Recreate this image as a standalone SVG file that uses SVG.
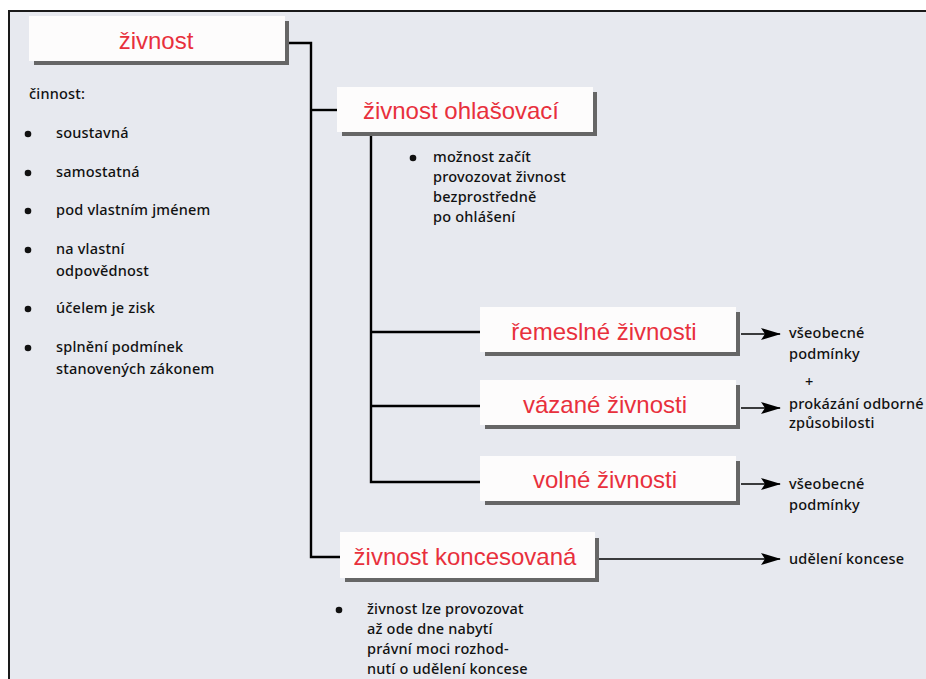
<svg xmlns="http://www.w3.org/2000/svg" width="926" height="679" viewBox="0 0 926 679">
<defs>
<style>
.bg{fill:#e7e9ef;stroke:#1a1a1a;stroke-width:2}
.box{fill:#fdfcfc}
.sh{fill:none;stroke:#666;stroke-width:4}
.title{font-family:"Liberation Sans",Arial,sans-serif;font-size:24px;fill:#e8303c;text-anchor:middle}
.t{font-family:"Noto Sans","Open Sans",sans-serif;font-size:14.5px;font-weight:500;letter-spacing:0.2px;fill:#111}
.dot{fill:#111}
.ln{fill:none;stroke:#000;stroke-width:2.4}
.ar{fill:none;stroke:#000;stroke-width:1.5}
</style>
<marker id="ah" markerWidth="20" markerHeight="12" refX="19" refY="6" orient="auto" markerUnits="userSpaceOnUse">
<path d="M0,0 L20,6 L0,12 L4,6 Z" fill="#000"/>
</marker>
</defs>
<rect x="0" y="0" width="926" height="679" fill="#fff"/>
<rect class="bg" x="9" y="11" width="930" height="680"/>

<g id="connectors">
<path class="ln" d="M289,43 H311 V557 H342"/>
<path class="ln" d="M311,110 H338"/>
<path class="ln" d="M371,136 V482 H481"/>
<path class="ln" d="M371,332 H481"/>
<path class="ln" d="M371,406 H481"/>
<path class="ar" d="M741,334 H780" marker-end="url(#ah)"/>
<path class="ar" d="M741,408 H780" marker-end="url(#ah)"/>
<path class="ar" d="M741,484 H780" marker-end="url(#ah)"/>
<path class="ar" d="M599,559 H780" marker-end="url(#ah)"/>
</g>

<g id="zivnost">
<path class="sh" d="M287,21 V63 H34"/>
<rect class="box" x="29" y="16" width="256" height="45"/>
<text class="title" x="156" y="49">živnost</text>
</g>

<g id="cinnost">
<text class="t" x="29" y="99">činnost:</text>
<circle class="dot" cx="28" cy="134" r="3.3"/><text class="t" x="56" y="138">soustavná</text>
<circle class="dot" cx="28" cy="173" r="3.3"/><text class="t" x="56" y="177">samostatná</text>
<circle class="dot" cx="28" cy="211" r="3.3"/><text class="t" x="56" y="215">pod vlastním jménem</text>
<circle class="dot" cx="28" cy="250" r="3.3"/><text class="t" x="56" y="254">na vlastní</text>
<text class="t" x="56" y="276">odpovědnost</text>
<circle class="dot" cx="28" cy="309" r="3.3"/><text class="t" x="56" y="313">účelem je zisk</text>
<circle class="dot" cx="28" cy="348" r="3.3"/><text class="t" x="56" y="352">splnění podmínek</text>
<text class="t" x="56" y="374">stanovených zákonem</text>
</g>

<g id="ohlasovaci">
<path class="sh" d="M595,92 V134 H342"/>
<rect class="box" x="337" y="87" width="256" height="45"/>
<text class="title" x="461" y="119">živnost ohlašovací</text>
</g>

<g id="ohlasovaci-note">
<circle class="dot" cx="413" cy="158" r="3.3"/>
<text class="t" x="433" y="162">možnost začít</text>
<text class="t" x="433" y="182">provozovat živnost</text>
<text class="t" x="433" y="202">bezprostředně</text>
<text class="t" x="433" y="222">po ohlášení</text>
</g>

<g id="remeslne">
<path class="sh" d="M738,312 V354 H485"/>
<rect class="box" x="480" y="307" width="256" height="45"/>
<text class="title" x="604" y="340">řemeslné živnosti</text>
</g>
<g id="vazane">
<path class="sh" d="M738,385 V427 H485"/>
<rect class="box" x="480" y="380" width="256" height="45"/>
<text class="title" x="605" y="413">vázané živnosti</text>
</g>
<g id="volne">
<path class="sh" d="M738,461 V503 H485"/>
<rect class="box" x="480" y="456" width="256" height="45"/>
<text class="title" x="605" y="488">volné živnosti</text>
</g>

<g id="podminky">
<text class="t" x="789" y="338">všeobecné</text>
<text class="t" x="789" y="359">podmínky</text>
<text class="t" x="805" y="387">+</text>
<text class="t" x="789" y="409">prokázání odborné</text>
<text class="t" x="789" y="428">způsobilosti</text>
<text class="t" x="789" y="489">všeobecné</text>
<text class="t" x="789" y="510">podmínky</text>
</g>

<g id="koncesovana">
<path class="sh" d="M597,538 V580 H345"/>
<rect class="box" x="340" y="532" width="255" height="46"/>
<text class="title" x="465" y="565">živnost koncesovaná</text>
</g>
<g id="udeleni">
<text class="t" x="789" y="564">udělení koncese</text>
</g>
<g id="koncesovana-note">
<circle class="dot" cx="339" cy="610" r="3.3"/>
<text class="t" x="367" y="614">živnost lze provozovat</text>
<text class="t" x="367" y="634">až ode dne nabytí</text>
<text class="t" x="367" y="654">právní moci rozhod-</text>
<text class="t" x="367" y="674">nutí o udělení koncese</text>
</g>
</svg>
